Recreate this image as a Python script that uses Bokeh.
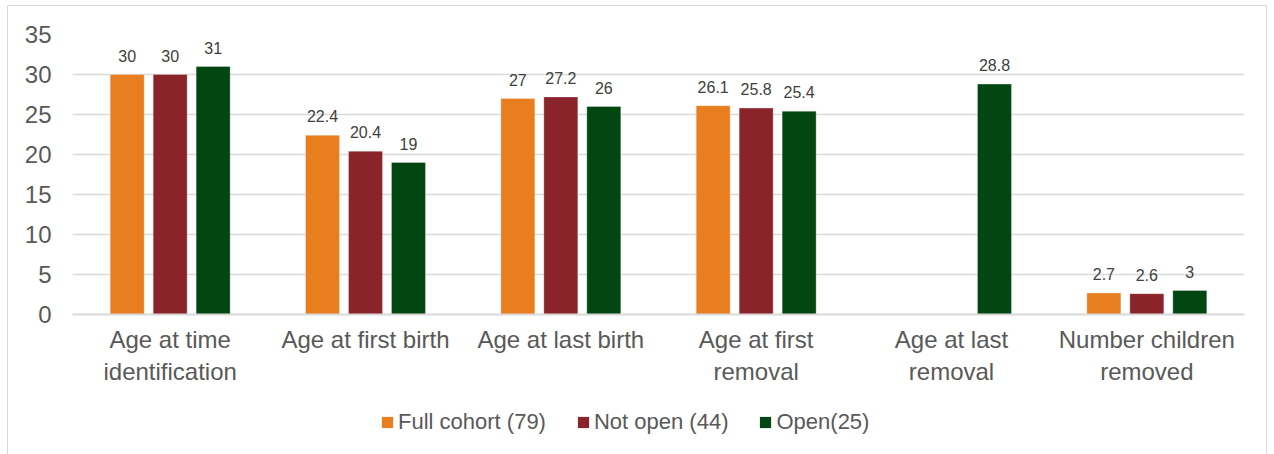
from bokeh.plotting import figure
from bokeh.layouts import column
from bokeh.models import ColumnDataSource, FactorRange, Range1d, Legend, LegendItem, LabelSet, SingleIntervalTicker
from bokeh.core.properties import value
from bokeh.transform import dodge
from bokeh.embed import file_html
from bokeh.resources import INLINE

categories = ["Age at time\nidentification", "Age at first birth", "Age at last birth",
              "Age at first\nremoval", "Age at last\nremoval", "Number children\nremoved"]
series_names = ["Full cohort (79)", "Not open (44)", "Open(25)"]
full_cohort = [30, 22.4, 27, 26.1, None, 2.7]
not_open = [30, 20.4, 27.2, 25.8, None, 2.6]
open_ = [31, 19, 26, 25.4, 28.8, 3]
colors = ["#E87E1F", "#8A232A", "#024612"]
offsets = [-0.22, 0.0, 0.22]

FONT = "Liberation Sans"
TXT = "#595959"
W = 1258

p = figure(x_range=FactorRange(*categories), y_range=Range1d(0, 35),
           width=W, height=389, output_backend="svg", toolbar_location=None,
           min_border_left=64, min_border_right=22, min_border_top=28, min_border_bottom=81)
p.outline_line_color = None
p.xgrid.grid_line_color = None
p.ygrid.grid_line_color = "#d9d9d9"
p.ygrid.grid_line_width = 1.5

p.yaxis.ticker = SingleIntervalTicker(interval=5)
p.yaxis.axis_line_color = None
p.yaxis.major_tick_line_color = None
p.yaxis.minor_tick_line_color = None
p.yaxis.major_label_text_font = FONT
p.yaxis.major_label_text_font_size = "24px"
p.yaxis.major_label_text_color = TXT
p.yaxis.major_label_standoff = 15

p.xaxis.axis_line_color = "#d9d9d9"
p.xaxis.axis_line_width = 2
p.xaxis.major_tick_line_color = None
p.xaxis.minor_tick_line_color = None
p.xaxis.major_label_text_font = FONT
p.xaxis.major_label_text_font_size = "24px"
p.xaxis.major_label_text_color = TXT
p.xaxis.major_label_standoff = 5

for name, vals, col, off in zip(series_names, [full_cohort, not_open, open_], colors, offsets):
    xs = [c for c, v in zip(categories, vals) if v is not None]
    ys = [v for v in vals if v is not None]
    src = ColumnDataSource(dict(x=xs, top=ys, lab=[f"{v:g}" for v in ys]))
    p.vbar(x=dodge("x", off, range=p.x_range), top="top", width=0.174, source=src,
           fill_color=col, line_color="white", line_width=0.6, line_alpha=0.5)
    p.add_layout(LabelSet(x=dodge("x", off, range=p.x_range), y="top", text="lab", source=src,
                          text_align="center", y_offset=13, text_font=value(FONT),
                          text_font_size="16px", text_color="#404040"))

# legend strip below the chart (zero-size carrier glyphs only feed the legend swatches)
lf = figure(x_range=Range1d(0, 1), y_range=Range1d(0, 1), width=W, height=59,
            output_backend="svg", toolbar_location=None,
            min_border_left=64, min_border_right=22, min_border_top=0, min_border_bottom=0)
lf.axis.visible = False
lf.grid.grid_line_color = None
lf.outline_line_color = None
items = []
for name, col in zip(series_names, colors):
    r = lf.vbar(x=[0.5], bottom=[0.5], top=[0.5], width=0, fill_color=col, line_color=None)
    items.append(LegendItem(label=name, renderers=[r]))
legend = Legend(items=items, orientation="horizontal", location=(308, 19),
                label_text_font=FONT, label_text_font_size="22px", label_text_color=TXT,
                glyph_width=14, glyph_height=14, label_standoff=4, spacing=30,
                border_line_color=None, background_fill_alpha=0, padding=0, margin=0)
lf.add_layout(legend)

layout = column(p, lf, spacing=0, margin=(5, 0, 0, 7),
                styles={"border": "1px solid #d9d9d9"})
open("out.html", "w").write(file_html(layout, INLINE))
